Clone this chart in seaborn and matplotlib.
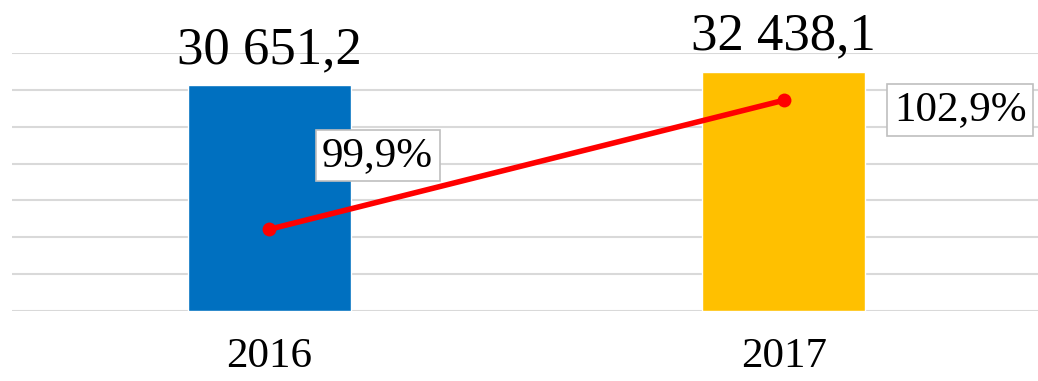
import matplotlib.pyplot as plt
import seaborn as sns
import pandas as pd

years = ['2016', '2017']
volume = [30651.2, 32438.1]
growth = [99.9, 102.9]
volume_labels = ['30 651,2', '32 438,1']
growth_labels = ['99,9%', '102,9%']
bar_colors = ['#0070C0', '#FFC000']

df = pd.DataFrame({'year': years, 'volume': volume, 'growth': growth})

sns.set_style('white')
plt.rcParams['font.family'] = ['Liberation Serif', 'DejaVu Serif']
plt.rcParams['text.color'] = 'black'
plt.rcParams['xtick.color'] = 'black'

fig = plt.figure(figsize=(10.38, 3.81), dpi=100)
ax = fig.add_axes([12 / 1038, 70 / 381, 1026 / 1038, 258 / 381])

sns.barplot(data=df, x='year', y='volume', hue='year', palette=bar_colors,
            legend=False, width=0.317, saturation=1, ax=ax)
ax.set_ylim(0, 35000)
ax.set_xlim(-0.5, 1.494)
ax.set_yticks(range(0, 35001, 5000))
ax.yaxis.grid(True, color='#D9D9D9', linewidth=1.5)
ax.set_axisbelow(True)
ax.set_xlabel('')
ax.set_ylabel('')
sns.despine(ax=ax, left=True, bottom=True)
ax.tick_params(axis='y', left=False, right=False, labelleft=False, length=0)
ax.tick_params(axis='x', bottom=False, labelsize=31, pad=19, length=0)

for cont, lab in zip(ax.containers, volume_labels):
    ax.bar_label(cont, labels=[lab], fontsize=38, padding=8, color='black')

# growth line on a second axis
ax2 = ax.twinx()
sns.lineplot(x=[0, 1], y=growth, ax=ax2, color='#FF0000', linewidth=4,
             marker='o', markersize=10, markeredgewidth=0)
ax2.set_ylim(98, 104)
ax2.set_yticks([])
for s in ax2.spines.values():
    s.set_visible(False)
ax2.tick_params(length=0)

offsets = [(78, 53), (127, -7)]
for i, (lab, off) in enumerate(zip(growth_labels, offsets)):
    ax2.annotate(lab, xy=(i, growth[i]), xytext=off, textcoords='offset points',
                 ha='center', va='center', fontsize=31, color='black',
                 bbox=dict(boxstyle='square,pad=0.15', fc='white', ec='#BFBFBF', lw=1.2))

fig.savefig('out.png', dpi=100)
